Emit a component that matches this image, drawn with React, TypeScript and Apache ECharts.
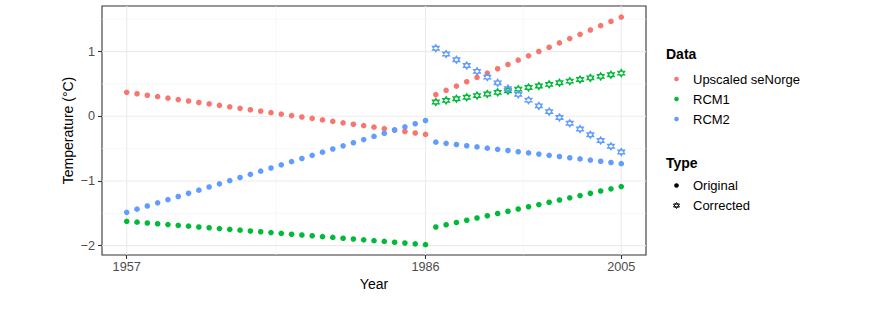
import React, { useEffect, useRef } from "react";
import * as echarts from "echarts";

// ---- data ----
const HIST_START = 1957;
const FUT_START = 1987;
const X_TICKS = [1957, 1986, 2005];
const X_MINOR = [1971.5, 1995.5];
const Y_TICKS = [-2, -1, 0, 1];
const Y_MINOR = [-1.5, -0.5, 0.5, 1.5];

const seNorgeHist = [0.370, 0.348, 0.325, 0.303, 0.280, 0.258, 0.236, 0.213, 0.191, 0.168, 0.146, 0.123, 0.101, 0.079, 0.056, 0.034, 0.011, -0.011, -0.033, -0.056, -0.078, -0.101, -0.123, -0.145, -0.168, -0.190, -0.213, -0.235, -0.258, -0.280];
const seNorgeFut = [0.334, 0.401, 0.467, 0.534, 0.601, 0.667, 0.734, 0.801, 0.867, 0.934, 1.001, 1.067, 1.134, 1.201, 1.267, 1.334, 1.401, 1.467, 1.534];

const rcm1Hist = [-1.625, -1.637, -1.650, -1.662, -1.675, -1.687, -1.699, -1.712, -1.724, -1.737, -1.749, -1.761, -1.774, -1.786, -1.799, -1.811, -1.824, -1.836, -1.848, -1.861, -1.873, -1.886, -1.898, -1.910, -1.923, -1.935, -1.948, -1.960, -1.972, -1.985];
const rcm1Fut = [-1.712, -1.677, -1.643, -1.608, -1.573, -1.538, -1.504, -1.469, -1.434, -1.399, -1.365, -1.330, -1.295, -1.261, -1.226, -1.191, -1.156, -1.122, -1.087];
const rcm1Corr = [0.221, 0.246, 0.271, 0.295, 0.320, 0.345, 0.370, 0.395, 0.419, 0.444, 0.469, 0.494, 0.518, 0.543, 0.568, 0.593, 0.617, 0.642, 0.667];

const rcm2Hist = [-1.485, -1.436, -1.387, -1.338, -1.289, -1.240, -1.191, -1.142, -1.094, -1.045, -0.996, -0.947, -0.898, -0.849, -0.800, -0.751, -0.702, -0.653, -0.604, -0.555, -0.506, -0.457, -0.409, -0.360, -0.311, -0.262, -0.213, -0.164, -0.115, -0.066];
const rcm2Fut = [-0.400, -0.419, -0.437, -0.456, -0.474, -0.493, -0.511, -0.530, -0.548, -0.567, -0.585, -0.604, -0.622, -0.641, -0.659, -0.678, -0.696, -0.715, -0.733];
const rcm2Corr = [1.052, 0.963, 0.874, 0.784, 0.695, 0.606, 0.517, 0.428, 0.339, 0.249, 0.160, 0.071, -0.018, -0.107, -0.196, -0.285, -0.375, -0.464, -0.553];

const DATA_NAMES = ["Upscaled seNorge", "RCM1", "RCM2"];
const TYPE_NAMES = ["Original", "Corrected"];
const COLORS = ["#F8766D", "#00BA38", "#619CFF"];

const pairs = (start: number, vals: number[]) => vals.map((v, i) => [start + i, v]);

const STAR = "path://M5,0 L10,7.5 L0,7.5 Z M5,10 L10,2.5 L0,2.5 Z";
const FONT = "'Liberation Sans', Arial, Helvetica, sans-serif";

export default function App() {
  const ref = useRef<HTMLDivElement>(null);
  useEffect(() => {
    if (!ref.current) return;
    const chart = echarts.init(ref.current, undefined, { renderer: "svg" });

    // grid lines: [x, y, major(1)/minor(0)]
    const vGrid = [...X_TICKS.map((x) => [x, 0, 1]), ...X_MINOR.map((x) => [x, 0, 0])];
    const hGrid = [...Y_TICKS.map((y) => [1980, y, 1]), ...Y_MINOR.map((y) => [1980, y, 0])];

    const gridStyle = (major: number) => ({
      stroke: major ? "#EBEBEB" : "#F3F3F3",
      lineWidth: major ? 1.1 : 0.6,
    });

    const vGridSeries = {
      type: "custom",
      data: vGrid,
      z: 0,
      silent: true,
      clip: false,
      renderItem: (params: any, api: any) => {
        const cs = params.coordSys;
        const p = api.coord([api.value(0), api.value(1)]);
        return {
          type: "line",
          shape: { x1: p[0], y1: cs.y, x2: p[0], y2: cs.y + cs.height },
          style: gridStyle(api.value(2)),
        };
      },
    };
    const hGridSeries = {
      type: "custom",
      data: hGrid,
      z: 0,
      silent: true,
      clip: false,
      renderItem: (params: any, api: any) => {
        const cs = params.coordSys;
        const p = api.coord([api.value(0), api.value(1)]);
        return {
          type: "line",
          shape: { x1: cs.x, y1: p[1], x2: cs.x + cs.width, y2: p[1] },
          style: gridStyle(api.value(2)),
        };
      },
    };

    const orig = (name: string, color: string, data: number[][]) => ({
      name,
      type: "scatter",
      data,
      symbol: "circle",
      symbolSize: 5.6,
      itemStyle: { color, opacity: 1 },
      z: 3,
      silent: true,
    });
    const corr = (name: string, color: string, data: number[][]) => ({
      name,
      type: "scatter",
      data,
      symbol: STAR,
      symbolSize: [7, 7.5],
      itemStyle: { color: "rgba(0,0,0,0)", borderColor: color, borderWidth: 1.1, opacity: 1 },
      z: 4,
      silent: true,
    });

    const legendX = 676.5;
    const legendTextX = 693;
    const dataRows = [79, 99, 119];
    const typeRows = [185.5, 205.5];

    const graphics: any[] = [
      {
        type: "text",
        x: 374,
        y: 284,
        style: { text: "Year", font: `14px ${FONT}`, fill: "#000", textAlign: "center", textVerticalAlign: "middle" },
      },
      {
        type: "text",
        x: 68,
        y: 130.5,
        rotation: Math.PI / 2,
        style: { text: "Temperature (°C)", font: `14px ${FONT}`, fill: "#000", textAlign: "center", textVerticalAlign: "middle" },
      },
      {
        type: "text",
        x: 666,
        y: 54,
        style: { text: "Data", font: `bold 14px ${FONT}`, fill: "#000", textAlign: "left", textVerticalAlign: "middle" },
      },
      {
        type: "text",
        x: 666,
        y: 162.5,
        style: { text: "Type", font: `bold 14px ${FONT}`, fill: "#000", textAlign: "left", textVerticalAlign: "middle" },
      },
    ];
    DATA_NAMES.forEach((n, i) => {
      graphics.push({ type: "circle", shape: { cx: legendX, cy: dataRows[i], r: 2.3 }, style: { fill: COLORS[i] } });
      graphics.push({
        type: "text",
        x: legendTextX,
        y: dataRows[i],
        style: { text: n, font: `13px ${FONT}`, fill: "#000", textAlign: "left", textVerticalAlign: "middle" },
      });
    });
    graphics.push({ type: "circle", shape: { cx: legendX, cy: typeRows[0], r: 2.3 }, style: { fill: "#000" } });
    const cy = typeRows[1];
    graphics.push({
      type: "polygon",
      shape: { points: [[legendX, cy - 3], [legendX + 3, cy + 1.5], [legendX - 3, cy + 1.5]] },
      style: { fill: "none", stroke: "#000", lineWidth: 1 },
    });
    graphics.push({
      type: "polygon",
      shape: { points: [[legendX, cy + 3], [legendX + 3, cy - 1.5], [legendX - 3, cy - 1.5]] },
      style: { fill: "none", stroke: "#000", lineWidth: 1 },
    });
    TYPE_NAMES.forEach((n, i) => {
      graphics.push({
        type: "text",
        x: legendTextX,
        y: typeRows[i],
        style: { text: n, font: `13px ${FONT}`, fill: "#000", textAlign: "left", textVerticalAlign: "middle" },
      });
    });

    chart.setOption({
      animation: false,
      backgroundColor: "#fff",
      textStyle: { fontFamily: FONT },
      grid: {
        left: 102,
        top: 6,
        right: 233,
        bottom: 67,
        show: true,
        borderColor: "#333333",
        borderWidth: 1.1,
        backgroundColor: "#fff",
      },
      xAxis: {
        type: "value",
        min: 1954.6,
        max: 2007.4,
        axisLine: { show: false, onZero: false },
        splitLine: { show: false },
        axisTick: { show: true, customValues: X_TICKS, length: 4, lineStyle: { color: "#333333", width: 1.1 } },
        axisLabel: {
          customValues: X_TICKS,
          color: "#4D4D4D",
          fontSize: 12.7,
          fontFamily: FONT,
          margin: 5,
          formatter: (v: number) => String(v),
        },
      },
      yAxis: {
        type: "value",
        min: -2.145,
        max: 1.705,
        axisLine: { show: false, onZero: false },
        splitLine: { show: false },
        axisTick: { show: true, customValues: Y_TICKS, length: 4, lineStyle: { color: "#333333", width: 1.1 } },
        axisLabel: {
          customValues: Y_TICKS,
          color: "#4D4D4D",
          fontSize: 12.7,
          fontFamily: FONT,
          margin: 7,
          formatter: (v: number) => (v < 0 ? "\u2212" + Math.abs(v) : String(v)),
        },
      },
      graphic: graphics,
      series: [
        vGridSeries,
        hGridSeries,
        orig(DATA_NAMES[0], COLORS[0], [...pairs(HIST_START, seNorgeHist), ...pairs(FUT_START, seNorgeFut)]),
        orig(DATA_NAMES[1], COLORS[1], [...pairs(HIST_START, rcm1Hist), ...pairs(FUT_START, rcm1Fut)]),
        orig(DATA_NAMES[2], COLORS[2], [...pairs(HIST_START, rcm2Hist), ...pairs(FUT_START, rcm2Fut)]),
        corr(DATA_NAMES[1] + " corrected", COLORS[1], pairs(FUT_START, rcm1Corr)),
        corr(DATA_NAMES[2] + " corrected", COLORS[2], pairs(FUT_START, rcm2Corr)),
      ],
    });
    return () => chart.dispose();
  }, []);
  return <div ref={ref} style={{ position: "fixed", left: 0, top: 0, width: 879, height: 322 }} />;
}
